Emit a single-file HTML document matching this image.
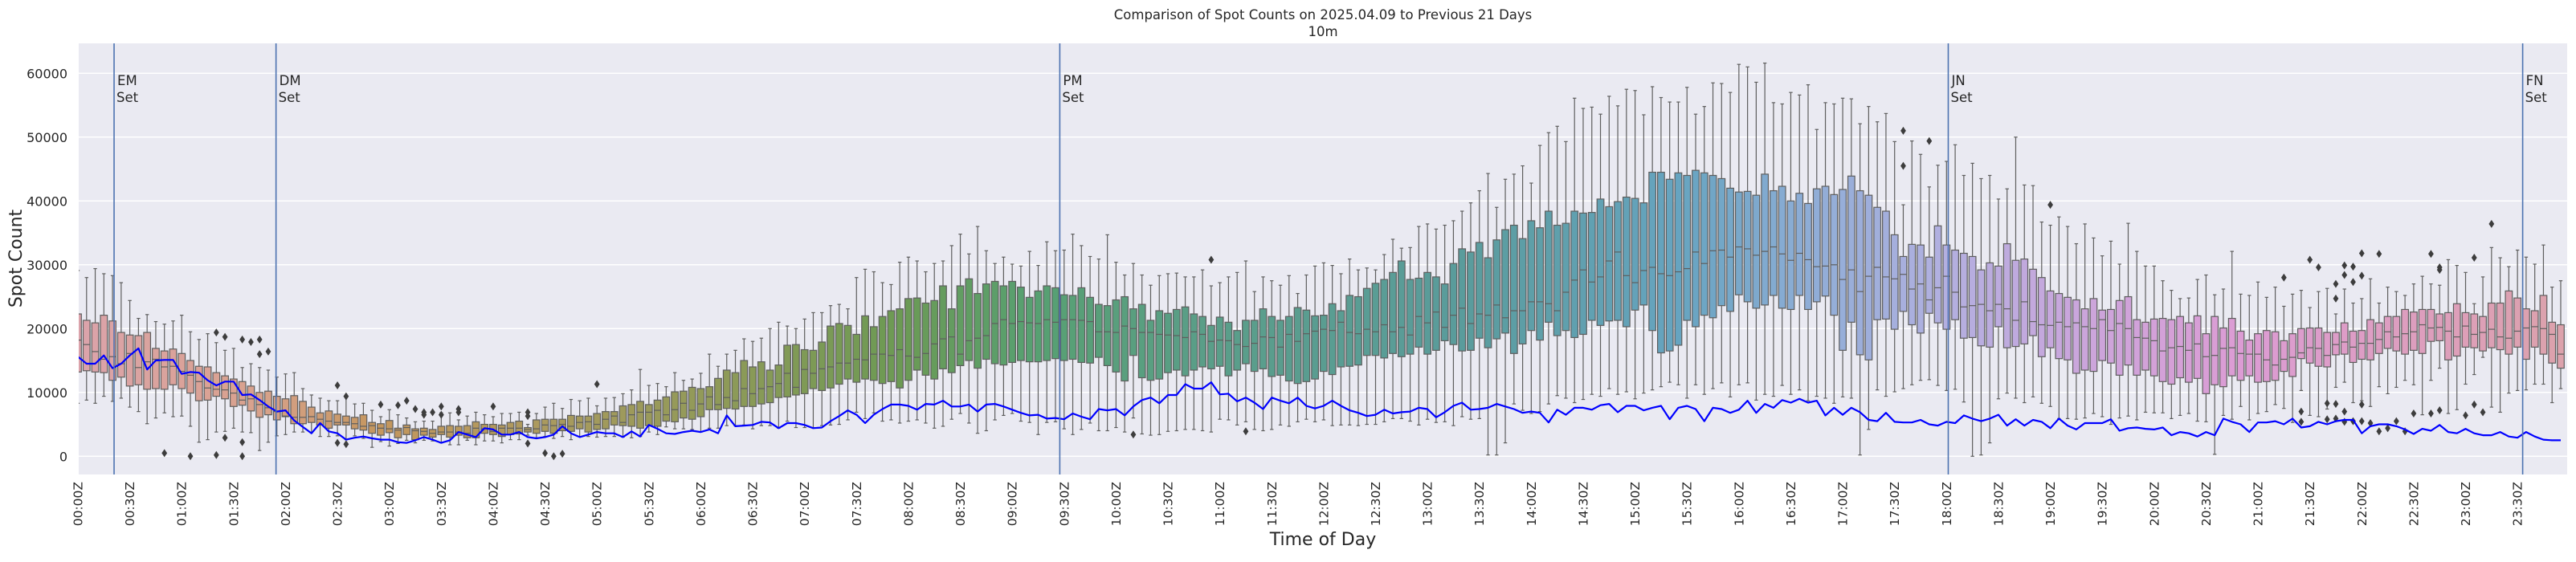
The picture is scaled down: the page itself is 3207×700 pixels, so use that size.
<!DOCTYPE html>
<html><head><meta charset="utf-8"><style>
html,body{margin:0;padding:0;background:#fff;}
svg text{font-family:"DejaVu Sans","Liberation Sans",sans-serif;fill:#262626;}
</style></head><body>
<svg id="chart" xmlns="http://www.w3.org/2000/svg" width="3207" height="695" viewBox="0 0 3207 695">
<text x="1647" y="24" text-anchor="middle" font-size="16.5">Comparison of Spot Counts on 2025.04.09 to Previous 21 Days</text>
<text x="1647" y="45" text-anchor="middle" font-size="16.5">10m</text>
<rect x="98" y="54" width="3098" height="537" fill="#eaeaf2"/>
<g id="grid"></g><g id="boxes"></g><g id="line"></g><g id="markers"></g><g id="xticks"></g><g id="yticks"></g>
<text x="0" y="0" transform="translate(27,322) rotate(-90)" text-anchor="middle" font-size="22">Spot Count</text>
<text x="1647" y="679" text-anchor="middle" font-size="22">Time of Day</text>
</svg>
<script>
const q3 = [22.3,21.3,20.9,22.1,21.2,19.4,19.0,18.9,19.4,16.9,16.5,16.8,16.1,15.0,14.1,14.0,13.1,12.6,12.1,11.7,11.0,10.0,10.2,9.4,9.0,9.5,8.6,7.7,6.8,7.1,6.6,6.3,6.1,6.5,5.3,5.1,5.6,4.4,
4.9,4.3,4.4,4.2,4.7,4.8,4.7,4.8,5.4,5.0,5.0,4.9,5.3,5.5,4.5,5.7,5.8,5.8,5.8,6.4,6.3,6.3,6.7,7.0,7.0,7.9,8.1,8.6,8.1,8.8,9.3,10.1,10.2,10.8,10.6,10.9,12.2,
13.5,13.1,15.0,14.0,14.8,13.5,14.3,17.4,17.5,16.7,16.6,17.9,20.4,20.8,20.5,19.1,22.0,20.3,21.9,22.8,23.1,24.7,24.8,24.0,24.4,26.7,23.1,26.7,27.8,25.5,27.0,27.4,26.7,27.4,26.5,24.9,25.9,
26.7,26.4,25.3,25.2,26.4,24.9,23.8,23.6,24.5,25.0,23.1,23.8,21.3,22.8,22.4,23.0,23.4,22.3,21.9,20.5,21.8,21.0,19.7,21.3,21.3,23.1,21.9,21.3,21.9,23.3,22.9,22.0,22.1,23.9,22.8,25.2,25.0,
26.3,27.1,27.7,28.8,30.6,27.7,27.9,28.8,28.1,27.0,30.2,32.5,32.0,33.5,31.1,33.9,35.5,36.2,34.1,36.9,35.8,38.4,36.2,36.5,38.4,38.1,38.2,40.3,39.1,39.9,40.6,40.4,39.7,44.5,44.5,43.4,44.4,
44.0,44.8,44.4,44.0,43.5,42.0,41.4,41.5,40.9,44.2,41.6,42.3,40.0,41.2,39.6,41.9,42.3,41.0,41.8,43.9,41.6,40.9,39.0,38.4,34.7,31.3,33.2,33.1,31.2,36.1,33.1,32.3,31.8,31.3,29.2,30.3,29.8,
33.3,30.7,30.9,29.3,28.0,25.9,25.5,24.9,24.5,23.1,24.7,22.9,23.0,24.4,25.0,21.4,21.0,21.5,21.6,21.4,21.9,20.9,22.0,19.2,21.9,20.1,21.6,19.6,18.2,19.2,19.7,19.5,18.1,19.2,20.0,20.1,20.1,
19.4,19.4,20.9,19.6,19.7,21.4,20.9,21.9,21.9,23.0,22.6,23.0,23.0,22.3,22.5,23.9,22.5,22.3,21.9,24.0,24.0,25.9,24.8,23.1,22.8,25.2,21.0,20.6];
const med = [18.2,17.5,16.4,15.2,15.6,14.5,16.1,13.9,14.8,15.2,14.0,14.1,13.3,12.7,11.7,10.7,10.5,10.4,9.9,8.8,9.0,8.1,7.6,7.0,6.3,6.1,6.1,6.2,5.8,5.5,5.3,5.3,5.1,4.7,4.8,4.4,4.3,4.1,
4.5,4.0,3.9,3.6,3.8,3.8,3.8,3.6,4.4,4.3,3.9,4.4,4.4,4.4,4.2,4.3,4.9,4.8,5.0,4.7,5.3,5.4,5.0,5.8,6.3,5.3,6.5,6.9,6.9,7.2,6.5,7.3,8.3,7.2,8.2,9.3,8.1,
9.2,8.7,10.6,9.8,10.6,10.9,11.4,13.0,10.8,13.6,13.0,13.7,14.0,14.6,14.6,15.2,15.1,16.0,16.0,15.8,16.7,15.7,15.5,16.1,17.6,18.4,18.7,16.0,18.1,18.5,18.9,20.8,21.4,20.8,21.1,20.9,20.8,
21.4,21.0,21.4,21.4,21.3,21.1,19.5,19.5,19.4,20.4,20.0,19.4,19.4,19.1,19.0,18.9,18.6,19.5,19.1,18.0,18.2,18.1,17.5,17.2,17.7,18.7,18.6,17.1,19.1,18.0,19.2,19.6,19.9,19.7,21.0,19.4,19.2,
19.9,19.5,20.6,19.5,20.2,19.0,21.9,20.9,22.6,20.2,22.1,23.2,20.8,22.3,22.1,23.7,21.7,22.8,22.8,24.2,24.2,23.9,22.8,25.7,27.6,29.2,27.3,28.1,30.6,32.0,28.3,27.2,29.1,29.6,28.6,28.3,28.9,
29.4,32.0,30.2,32.2,32.3,31.2,32.8,32.5,31.5,32.1,32.8,31.7,30.7,31.8,30.8,29.7,29.8,30.0,27.7,29.2,25.8,28.2,29.6,28.1,27.8,28.5,26.2,27.0,24.5,26.4,28.2,25.7,23.4,23.6,23.8,22.8,23.8,
23.1,21.3,24.2,21.1,20.6,20.5,21.0,20.3,20.9,20.3,20.0,21.4,19.7,20.8,20.0,18.6,18.5,18.1,16.5,17.0,17.2,16.6,17.6,15.6,15.8,16.9,17.0,16.1,16.0,16.0,15.1,14.3,15.2,15.5,16.2,17.0,16.9,
15.8,17.5,17.9,17.1,17.7,17.7,18.3,19.5,18.7,19.2,19.5,20.6,20.1,20.2,19.6,18.7,20.4,19.1,19.4,19.9,18.7,18.5,19.6,20.1,20.3,20.0,19.1,16.0];
const q1 = [13.2,13.4,13.2,13.1,11.9,12.4,11.0,11.2,10.5,10.6,10.5,11.2,10.6,9.9,8.7,8.8,9.4,9.0,7.8,8.0,7.1,6.1,6.5,5.7,6.2,5.1,5.1,5.3,4.9,4.4,4.9,4.9,4.3,4.1,3.6,3.3,3.7,2.9,
3.4,2.6,3.3,3.0,3.4,3.0,3.3,2.9,2.9,3.6,3.4,3.1,3.4,3.5,3.8,3.6,3.9,3.6,4.0,3.9,4.3,3.8,4.2,4.3,4.9,4.8,4.7,4.4,4.8,4.7,5.5,5.4,6.0,5.8,6.2,7.3,7.3,
7.5,7.4,7.8,7.8,8.2,8.4,9.2,9.3,9.6,9.8,10.6,10.3,10.7,11.3,12.1,11.6,12.1,11.9,11.4,11.7,10.7,11.9,13.5,12.7,12.1,13.7,13.1,14.2,15.0,13.8,15.2,14.5,14.3,14.7,15.0,14.8,14.8,
15.0,15.3,15.0,15.2,14.7,14.6,15.5,14.2,13.2,11.8,15.8,12.3,11.9,12.1,13.1,13.5,12.6,13.5,14.0,13.7,14.1,12.6,13.5,14.5,13.3,13.7,12.5,12.7,11.8,11.4,11.7,12.1,13.3,12.8,14.0,14.1,14.3,
15.8,15.8,15.4,16.1,15.6,16.0,17.1,16.0,16.6,18.1,17.5,16.5,16.6,18.5,17.0,18.4,19.3,16.1,17.6,19.7,18.2,21.0,18.9,19.7,18.6,19.1,21.3,20.5,21.2,21.3,20.3,22.9,23.7,19.7,16.2,16.5,17.4,
21.3,20.3,22.1,21.7,23.6,22.7,25.3,24.2,23.2,23.7,25.2,23.2,23.0,25.2,23.0,24.2,25.1,22.1,16.6,21.0,15.9,15.1,21.4,21.5,19.9,22.7,20.6,19.3,22.4,20.9,19.9,21.4,18.5,18.6,17.3,17.1,20.3,
17.0,17.2,17.6,18.9,15.6,17.0,15.3,15.1,13.0,13.5,13.3,15.0,14.6,12.7,14.3,12.7,13.5,12.6,11.7,11.3,12.3,11.6,12.2,9.8,11.2,10.9,12.6,11.9,12.6,11.6,11.7,11.9,13.3,12.5,15.3,14.6,14.1,
14.0,15.9,16.0,14.7,15.2,15.1,16.1,16.9,16.5,16.0,16.6,16.1,18.0,18.1,15.1,15.7,17.1,17.0,16.5,17.0,16.7,16.0,17.1,15.2,17.1,16.0,14.6,13.8];
const whiskerHigh = [29.1,28.0,29.4,28.6,28.3,27.2,24.4,21.6,22.2,21.1,20.7,21.2,22.1,19.5,18.3,19.2,17.8,16.6,16.9,13.9,14.5,13.9,13.5,12.4,12.9,13.1,10.6,9.6,9.1,8.7,8.7,9.4,8.2,8.3,7.2,6.2,7.3,6.5,
6.0,5.4,5.5,5.5,6.8,6.8,5.7,6.3,6.9,6.5,6.2,6.7,6.7,6.9,5.0,6.7,7.7,8.3,7.5,8.9,8.7,9.1,7.9,9.1,9.2,9.8,10.4,13.6,11.1,11.4,10.9,13.1,11.9,12.1,13.0,16.0,14.1,
16.0,16.6,18.4,18.0,18.5,20.0,21.0,20.4,20.0,21.5,22.5,22.5,23.6,23.8,23.1,28.0,29.3,28.9,27.2,26.9,30.4,31.2,30.6,28.9,30.2,30.6,33.0,34.8,31.7,36.0,32.2,30.2,31.2,30.1,29.8,32.1,29.9,
33.6,32.2,32.3,34.8,33.0,31.3,30.9,34.7,30.4,28.4,30.2,28.4,26.8,28.3,28.6,28.7,28.1,28.1,29.2,26.7,27.2,28.1,28.8,30.6,25.8,28.1,27.5,26.8,28.3,25.5,28.4,29.8,30.3,29.9,28.6,30.9,29.2,
29.5,29.2,31.6,34.0,32.6,32.7,36.0,36.4,35.6,36.2,36.9,38.4,39.7,41.6,44.3,39.0,43.4,44.2,45.5,42.8,48.7,50.7,51.7,49.3,56.1,54.5,54.7,53.6,56.4,54.9,57.5,57.3,53.5,57.9,56.2,55.5,55.5,
57.8,53.6,54.8,58.5,58.4,57.0,61.4,61.0,58.6,61.6,55.4,55.2,57.0,56.6,58.2,51.2,55.4,55.2,56.1,56.0,52.1,54.8,52.4,53.7,49.3,39.4,49.4,47.3,42.2,45.6,46.2,48.8,44.0,45.9,43.5,44.0,40.3,
41.9,50.0,42.5,42.4,36.7,36.2,37.5,36.0,33.3,36.4,34.2,31.4,33.7,30.1,36.5,32.1,29.8,29.8,27.5,26.0,24.7,24.8,27.7,28.4,25.3,26.2,32.1,25.4,25.2,27.3,24.9,26.5,23.5,25.4,26.0,23.3,25.8,
26.3,22.3,26.2,24.0,24.7,27.8,24.0,26.5,25.8,25.2,27.0,28.2,27.0,26.8,30.8,29.9,28.8,23.9,28.1,32.7,31.1,29.7,32.3,31.2,30.1,33.1,26.5,27.5];
const whiskerLow = [8.3,8.8,8.3,9.4,8.6,9.1,7.7,7.0,5.1,6.0,6.8,6.2,6.3,4.7,2.2,2.6,3.8,3.9,4.4,3.8,3.7,0.9,2.2,3.2,3.4,3.8,3.8,3.7,3.1,3.1,3.2,2.6,3.2,2.8,1.4,2.3,1.6,2.0,
2.5,2.1,2.5,2.4,2.1,1.8,1.8,2.5,1.8,2.4,2.4,2.1,2.6,2.6,3.3,2.9,3.1,2.8,3.1,2.6,3.1,3.1,3.0,3.1,3.1,3.0,2.9,3.1,3.8,3.4,4.6,4.3,4.3,4.2,3.8,4.4,4.4,
4.8,4.8,4.9,4.3,4.8,4.8,4.4,5.5,4.5,4.5,4.5,4.8,4.9,5.0,5.7,6.9,5.9,6.8,5.5,5.7,5.2,5.5,5.7,5.2,4.4,4.7,5.8,6.7,5.2,3.6,4.0,5.7,6.4,6.7,5.5,5.3,3.4,
5.3,5.4,4.3,3.4,4.2,5.2,4.0,4.0,4.5,3.8,6.0,3.5,3.3,3.4,3.9,4.0,4.2,4.2,4.0,3.8,5.8,5.7,4.9,5.4,4.2,4.0,4.2,4.9,4.7,5.4,5.8,5.4,5.7,4.8,4.9,4.9,4.8,
5.0,5.0,5.4,5.9,5.9,5.5,4.9,5.8,5.3,5.4,4.8,6.2,5.8,5.9,0.2,0.2,2.1,8.2,7.2,6.7,7.0,8.2,9.5,9.1,8.4,8.9,9.7,9.4,10.6,9.7,10.1,9.0,9.9,10.4,10.9,11.6,11.2,
9.1,11.2,9.7,10.6,11.5,9.3,11.2,11.5,8.8,9.7,9.4,11.1,9.7,10.4,8.7,9.4,9.1,8.3,9.3,9.1,0.2,4.2,10.4,9.4,10.1,10.6,11.2,11.9,12.0,11.1,10.3,10.5,8.5,0.0,0.2,2.1,9.0,
9.9,9.1,8.4,9.3,8.3,7.8,5.9,5.9,5.8,6.0,6.7,6.2,5.0,6.0,6.3,5.7,6.9,6.8,6.8,5.9,6.4,6.7,5.5,5.4,0.3,6.4,5.8,7.8,5.7,6.7,7.0,8.1,7.5,5.3,10.3,6.4,6.2,
7.4,10.8,11.6,8.4,8.7,7.8,10.9,9.8,10.8,11.9,11.2,6.5,11.9,13.8,6.7,7.3,11.3,12.8,15.5,7.7,6.9,9.9,10.3,10.4,11.3,11.3,8.4,10.6];
const todayCounts = [15.6,14.5,14.5,15.8,13.8,14.5,15.8,16.9,13.6,15.0,15.1,15.1,12.9,13.2,13.1,11.9,11.1,11.7,11.7,9.6,9.7,8.8,7.8,7.0,7.2,5.6,4.6,3.6,5.2,3.9,3.6,2.6,2.9,3.1,2.8,2.6,2.6,2.2,
2.1,2.5,3.0,2.6,2.1,2.5,3.8,3.4,3.0,4.4,4.2,3.4,3.4,3.8,3.0,2.8,3.0,3.4,4.7,3.6,3.0,3.4,3.8,3.6,3.6,3.0,3.9,3.1,4.9,4.3,3.6,3.5,3.8,4.0,3.8,4.2,3.6,
6.4,4.7,4.8,4.9,5.4,5.3,4.4,5.2,5.2,4.9,4.4,4.5,5.5,6.3,7.2,6.5,5.2,6.5,7.4,8.1,8.1,7.9,7.3,8.2,8.1,8.7,7.8,7.8,8.1,7.0,8.1,8.2,7.8,7.3,6.8,6.4,6.5,
5.9,6.0,5.8,6.7,6.2,5.8,7.4,7.2,7.4,6.4,7.8,8.8,9.2,8.3,9.6,9.6,11.3,10.6,10.6,11.6,9.7,9.8,8.6,9.2,8.4,7.4,9.2,8.7,8.3,9.2,7.9,7.5,7.9,8.7,7.9,7.2,6.8,
6.3,6.5,7.3,6.7,6.9,7.0,7.6,7.4,6.1,6.9,7.9,8.4,7.3,7.4,7.6,8.2,7.8,7.4,6.8,7.0,6.8,5.3,7.3,6.5,7.6,7.6,7.3,8.0,8.2,6.9,7.9,7.9,7.2,7.6,7.9,5.8,7.6,
7.9,7.4,5.5,7.6,7.4,6.8,7.3,8.7,6.8,8.2,7.6,8.8,8.4,9.0,8.4,8.7,6.4,7.6,6.5,7.6,6.9,5.7,5.5,6.8,5.4,5.3,5.3,5.7,5.0,4.8,5.4,5.2,6.4,5.9,5.5,5.9,6.5,
4.8,5.8,4.8,5.7,5.4,4.4,5.9,4.8,4.2,5.2,5.2,5.2,5.8,4.0,4.4,4.5,4.3,4.2,4.5,3.3,3.8,3.6,3.1,3.8,3.3,5.9,5.4,5.0,3.8,5.3,5.3,5.5,5.0,5.9,4.5,4.7,5.4,
5.0,5.5,5.7,5.7,3.6,4.7,5.0,5.0,4.7,4.2,3.5,4.3,4.0,4.9,3.8,3.6,4.3,3.6,3.3,3.3,3.8,3.1,2.9,3.8,3.1,2.6,2.5,2.5];
const outlierIdx = [10,13,16,16,17,17,19,19,19,20,21,21,22,30,30,31,31,35,37,38,39,40,40,41,42,42,44,44,48,52,52,52,54,55,56,60,122,131,135,211,211,214,228,255,257,257,258,259,260,260,261,261,261,261,262,262,262,262,263,263,263,264,264,264,264,265,266,266,267,268,269,270,272,272,273,273,273,276,277,277,278,279];
const outlierVal = [0.5,0.0,19.4,0.2,18.7,2.9,18.3,2.2,0.0,17.9,18.3,16.0,16.4,11.1,2.1,9.4,1.9,8.1,8.0,8.7,7.4,6.9,6.5,6.9,7.8,6.5,7.4,6.9,7.8,6.9,6.3,2.0,0.5,0.0,0.4,11.3,3.4,30.8,3.9,51.0,45.5,49.4,39.4,28.0,7.0,5.4,30.8,29.6,8.3,5.8,27.0,24.7,8.2,5.9,29.9,28.4,7.0,5.4,29.7,27.3,5.5,31.8,28.3,8.1,5.5,5.2,31.7,3.9,4.4,5.5,3.9,6.7,31.7,6.7,29.6,29.2,7.2,6.4,31.1,8.1,6.9,36.4];
const markerLabels = ["EM","DM","PM","JN","FN"];
const markerPos = [4.18,22.9,113.5,216.2,282.6];
const yTicks = [0,10000,20000,30000,40000,50000,60000];
const paletteKeys = [[0,"#dba3ab"],[20,"#d9a28e"],[35,"#c4975e"],[55,"#a99a5e"],[75,"#8e9a58"],[95,"#6c9a54"],[110,"#57a071"],[130,"#5a9e88"],[160,"#5a9c9c"],[185,"#66a4c0"],[200,"#8eadd6"],[215,"#b1b0e0"],[230,"#c9a6dc"],[250,"#dc9cd4"],[270,"#dd9ebe"],[287,"#dca2ac"]];

const NS="http://www.w3.org/2000/svg";
const X0=97, STEP=10.77, Y0=568.3, YS=79.5/10000;
const PL=98, PR=3196, PT=54, PB=591;
const xs=i=>X0+i*STEP;
const ys=v=>Y0-v*YS;
function mk(tag,attrs,parent){const e=document.createElementNS(NS,tag);for(const k in attrs)e.setAttribute(k,attrs[k]);parent.appendChild(e);return e;}
function hex(h){return [1,3,5].map(k=>parseInt(h.substr(k,2),16));}
function colorAt(i){for(let k=0;k<paletteKeys.length-1;k++){const a=paletteKeys[k],b=paletteKeys[k+1];if(i>=a[0]&&i<=b[0]){const t=(i-a[0])/(b[0]-a[0]);const ca=hex(a[1]),cb=hex(b[1]);return "rgb("+ca.map((c,j)=>Math.round(c+(cb[j]-c)*t)).join(",")+")";}}return paletteKeys[paletteKeys.length-1][1];}

const grid=document.getElementById('grid');
const yt=document.getElementById('yticks');
yTicks.forEach(v=>{
  const l=mk('line',{x1:PL,x2:PR,y1:ys(v),y2:ys(v),stroke:"#ffffff","stroke-width":1.5},grid);
  
  
  const t=mk('text',{x:84,y:ys(v)+6,"text-anchor":"end","font-size":16},yt);
  t.textContent=String(v);
  
  
});

const bx=document.getElementById('boxes');
const clip=mk('clipPath',{id:'pc'},document.getElementById('chart'));
mk('rect',{x:PL,y:PT,width:PR-PL,height:PB-PT},clip);
bx.setAttribute('clip-path','url(#pc)');
const BW=8.6, CAP=2.2, EDGE="#5e5e5e";
for(let i=0;i<q3.length;i++){
  const x=xs(i), g=mk('g',{},bx);
  
  
  mk('line',{x1:x,x2:x,y1:ys(whiskerHigh[i]*1000),y2:ys(q3[i]*1000),stroke:EDGE,"stroke-width":1.2},g);
  mk('line',{x1:x,x2:x,y1:ys(q1[i]*1000),y2:ys(whiskerLow[i]*1000),stroke:EDGE,"stroke-width":1.2},g);
  mk('line',{x1:x-CAP,x2:x+CAP,y1:ys(whiskerHigh[i]*1000),y2:ys(whiskerHigh[i]*1000),stroke:EDGE,"stroke-width":1.2},g);
  mk('line',{x1:x-CAP,x2:x+CAP,y1:ys(whiskerLow[i]*1000),y2:ys(whiskerLow[i]*1000),stroke:EDGE,"stroke-width":1.2},g);
  mk('rect',{x:x-BW/2,y:ys(q3[i]*1000),width:BW,height:Math.max(0.5,ys(q1[i]*1000)-ys(q3[i]*1000)),fill:colorAt(i),stroke:EDGE,"stroke-width":1.2},g);
  mk('line',{x1:x-BW/2,x2:x+BW/2,y1:ys(med[i]*1000),y2:ys(med[i]*1000),stroke:EDGE,"stroke-width":1.2},g);
}
for(let k=0;k<outlierIdx.length;k++){
  const x=xs(outlierIdx[k]), y=ys(outlierVal[k]*1000);
  const d=mk('path',{d:`M${x},${y-5}L${x+3.4},${y}L${x},${y+5}L${x-3.4},${y}Z`,fill:"#3d3d3d"},bx);
  
  
}
let pts=todayCounts.map((v,i)=>xs(i).toFixed(1)+","+ys(v*1000).toFixed(1)).join(" ");
const pl=mk('polyline',{points:pts,fill:"none",stroke:"#0000ff","stroke-width":2.2,"stroke-linejoin":"round","clip-path":"url(#pc)"},document.getElementById('line'));



const mg=document.getElementById('markers');
markerPos.forEach((p,k)=>{
  const x=xs(p);
  const l=mk('line',{x1:x,x2:x,y1:PT,y2:PB,stroke:"#4c72b0","stroke-width":1.6},mg);
  
  
  const t=mk('text',{x:x+4,y:106,"font-size":16.5},mg);
  t.textContent=markerLabels[k];
  
  
  const t2=mk('text',{x:x+3,y:127,"font-size":16.5},mg);
  t2.textContent="Set";
  
  
});

const xt=document.getElementById('xticks');
for(let h=0;h<48;h++){
  const i=h*6, x=xs(i)+5.5;
  const lab=String(Math.floor(h/2)).padStart(2,'0')+":"+(h%2?"30":"00")+"Z";
  const t=mk('text',{x:0,y:0,transform:`translate(${x.toFixed(1)},600) rotate(-90)`,"text-anchor":"end","font-size":15.5},xt);
  t.textContent=lab;
  
  
}
</script>
</body></html>
